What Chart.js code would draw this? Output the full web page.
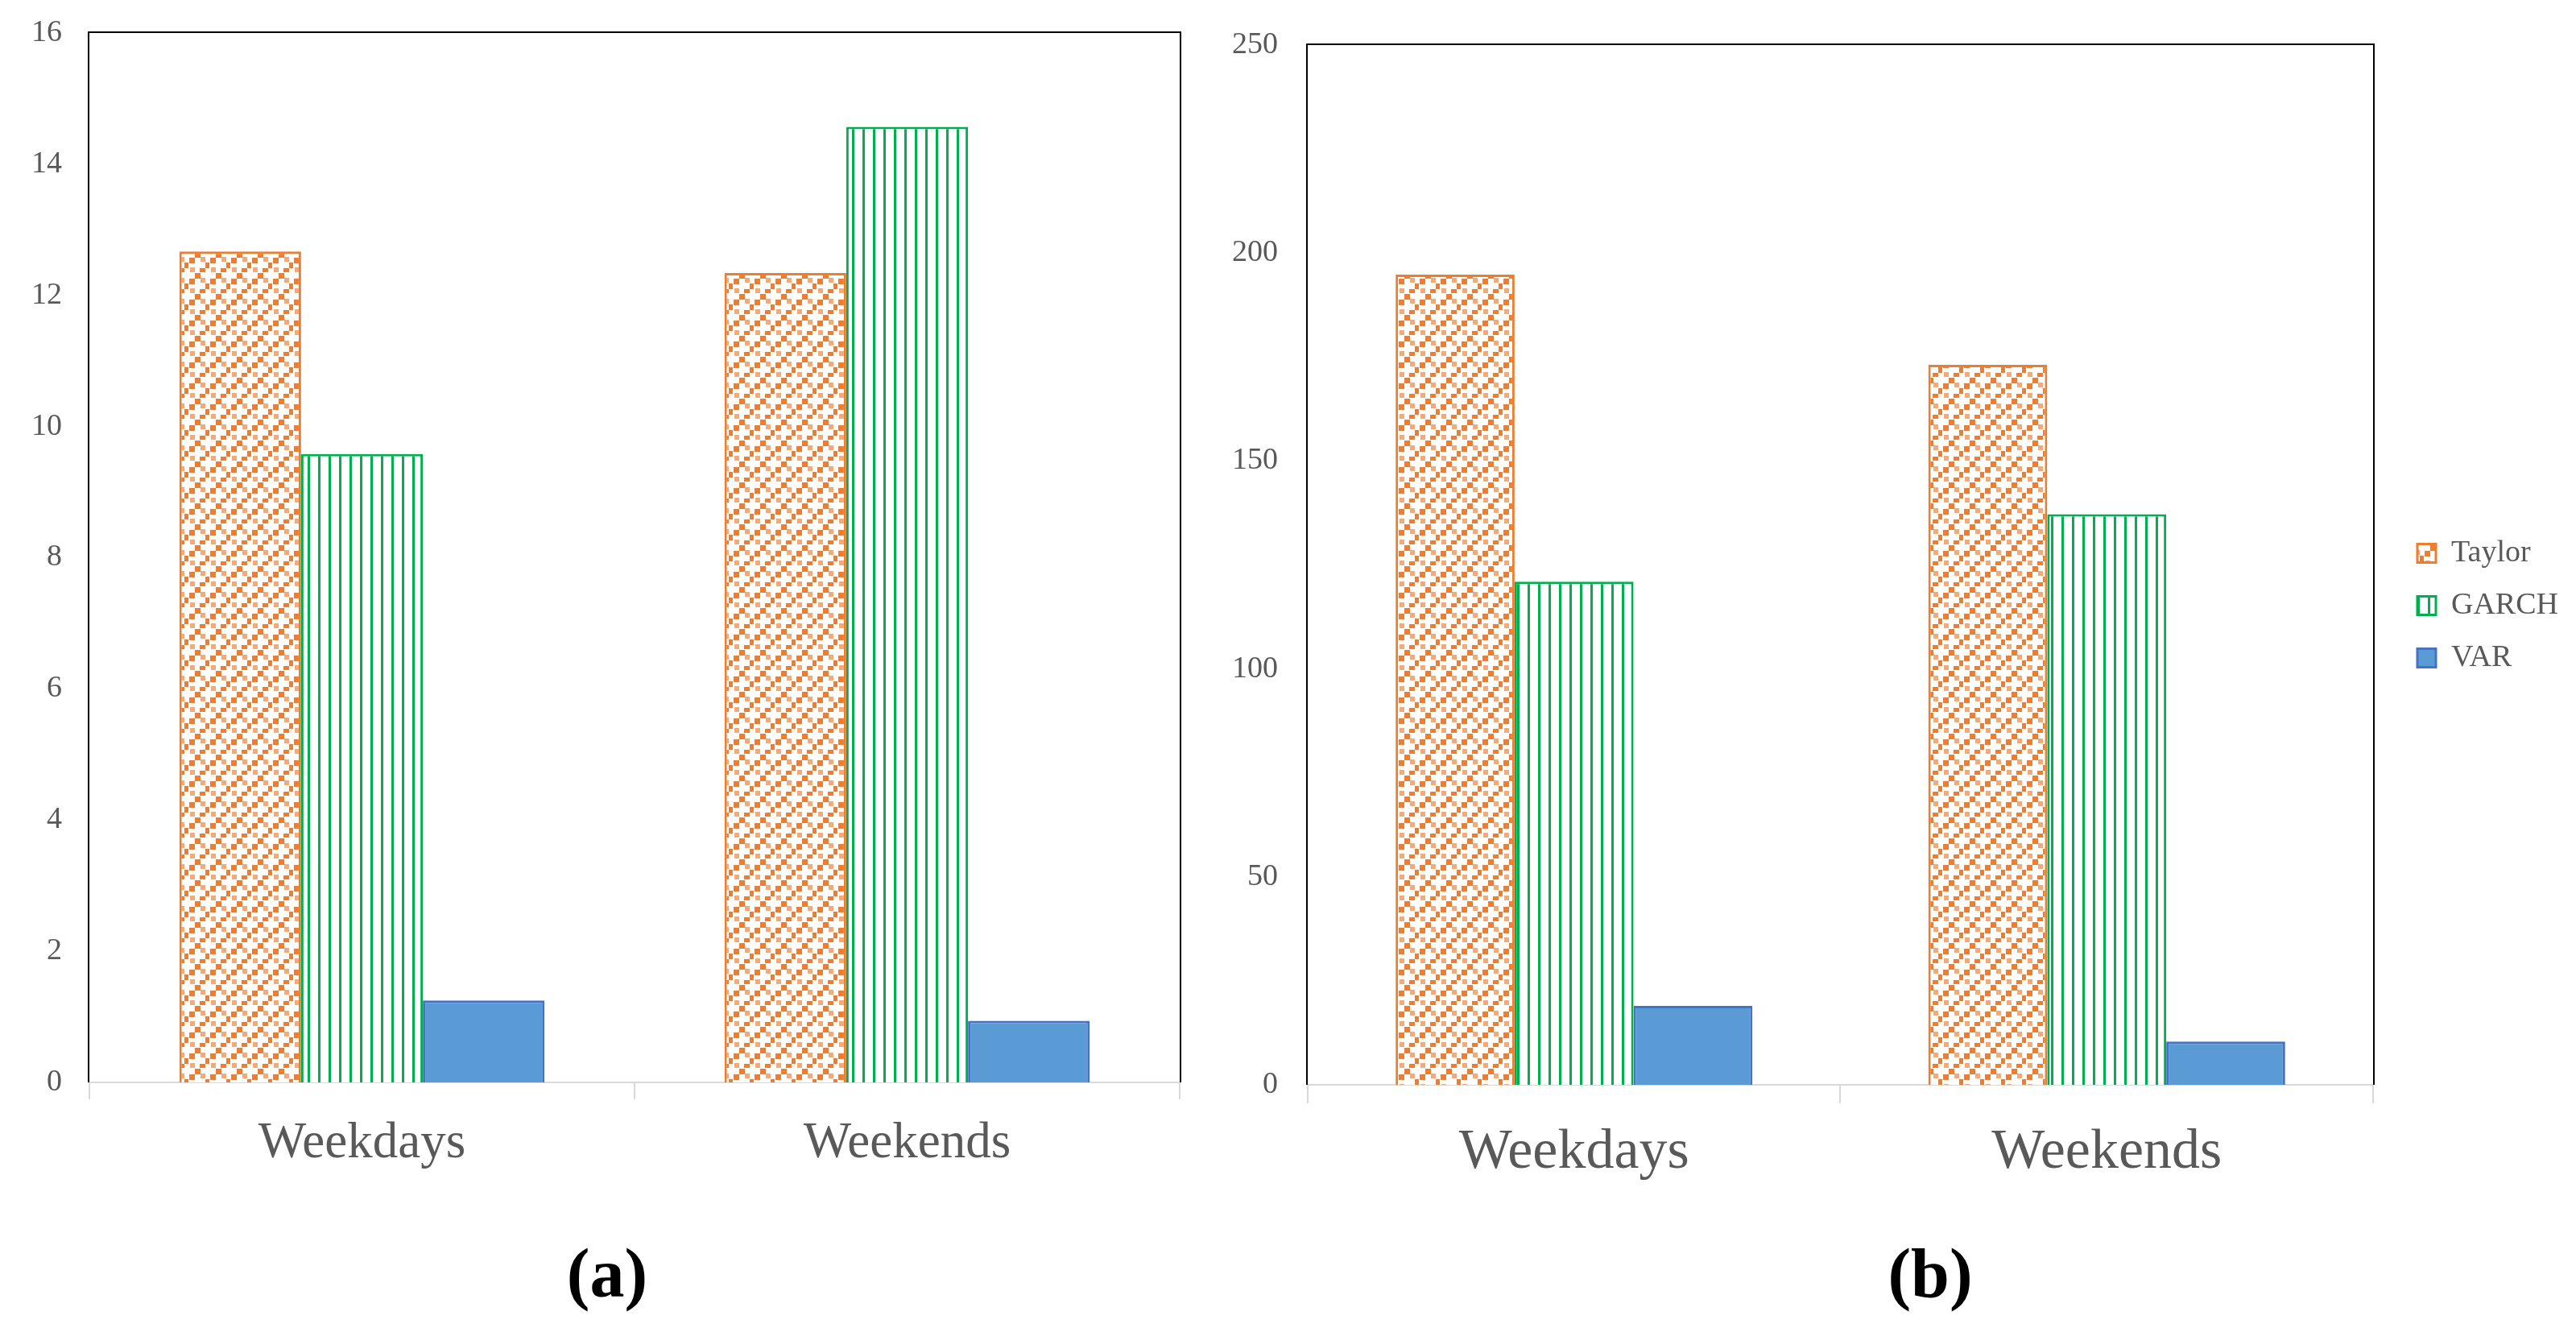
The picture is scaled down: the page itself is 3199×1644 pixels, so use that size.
<!DOCTYPE html>
<html>
<head>
<meta charset="utf-8">
<script src="https://cdn.jsdelivr.net/npm/chart.js@4.4.1/dist/chart.umd.min.js"></script>
<style>
  html, body { margin: 0; padding: 0; background: #ffffff; width: 3199px; height: 1644px; overflow: hidden; }
  canvas { position: absolute; top: 0; }
  .cap { position: absolute; font-family: 'Liberation Serif', 'Times New Roman', serif; font-weight: bold; font-size: 86px; line-height: 86px; color: #000; text-align: center; width: 200px; }
</style>
</head>
<body>
<canvas id="chartA" width="1500" height="1500" style="left:0px"></canvas>
<canvas id="chartB" width="1749" height="1504" style="left:1450px"></canvas>
<div class="cap" style="left:654px; top:1538px">(a)</div>
<div class="cap" style="left:2297px; top:1538px">(b)</div>
<script>
// ---- data ----
const categories = ['Weekdays', 'Weekends'];
const seriesNames = ['Taylor', 'GARCH', 'VAR'];
// panel (a)
const taylorA = [12.67, 12.34];
const garchA  = [9.58, 14.57];
const varA    = [1.25, 0.94];
const ticksA  = [0, 2, 4, 6, 8, 10, 12, 14, 16];
// panel (b)
const taylorB = [194.8, 173.1];
const garchB  = [121, 137.2];
const varB    = [19, 10.4];
const ticksB  = [0, 50, 100, 150, 200, 250];

// ---- patterns ----
function taylorPattern() {
  const t = document.createElement('canvas');
  t.width = 26; t.height = 26;
  const g = t.getContext('2d');
  g.fillStyle = '#ffffff'; g.fillRect(0, 0, 26, 26);
  g.fillStyle = '#ed7d31';
  [[1, 8], [8, 1], [14, 21], [21, 14]].forEach(p => g.fillRect(p[0], p[1], 7, 7));
  g.globalAlpha = 0.65;
  [[15, 7], [2, 20]].forEach(p => g.fillRect(p[0], p[1], 6, 6));
  return document.createElement('canvas').getContext('2d').createPattern(t, 'repeat');
}
function garchPattern() {
  const t = document.createElement('canvas');
  t.width = 13; t.height = 4;
  const g = t.getContext('2d');
  g.fillStyle = '#ffffff'; g.fillRect(0, 0, 13, 4);
  g.fillStyle = '#00b050'; g.fillRect(5, 0, 3, 4);
  return document.createElement('canvas').getContext('2d').createPattern(t, 'repeat');
}
const patT = taylorPattern();
const patG = garchPattern();

const FONT = "'Liberation Serif', 'Times New Roman', serif";
const GREY = '#595959';

const framePlugin = {
  id: 'frame',
  afterDatasetsDraw(chart) {
    const a = chart.chartArea, c = chart.ctx;
    c.save();
    c.strokeStyle = '#000000';
    c.lineWidth = 2;
    c.beginPath();
    c.moveTo(a.left - 1, a.bottom);
    c.lineTo(a.left - 1, a.top - 1);
    c.lineTo(a.right + 1, a.top - 1);
    c.lineTo(a.right + 1, a.bottom);
    c.stroke();
    c.restore();
  }
};

function datasets(t, g, v) {
  return [
    { label: seriesNames[0], data: t, backgroundColor: patT, borderColor: '#ed7d31', borderWidth: 3 },
    { label: seriesNames[1], data: g, backgroundColor: patG, borderColor: '#00b050', borderWidth: 3 },
    { label: seriesNames[2], data: v, backgroundColor: '#5b9bd5', borderColor: '#4472c4', borderWidth: 3 }
  ];
}

function spacerAxis(type, position, size, weight) {
  const horiz = position === 'top' || position === 'bottom';
  return {
    type: type, position: position, display: true, weight: weight || 0,
    grid: { display: false, drawTicks: false }, border: { display: false }, ticks: { display: false },
    afterFit: s => {
      if (horiz) { s.height = size; } else { s.width = size; }
      s.paddingTop = 0; s.paddingBottom = 0; s.paddingLeft = 0; s.paddingRight = 0;
    }
  };
}

function makeOptions(cfg) {
  const o = {
    responsive: false,
    animation: false,
    devicePixelRatio: 1,
    categoryPercentage: 0.67,
    barPercentage: 1.0,
    layout: { padding: cfg.padding },
    plugins: {
      tooltip: { enabled: false },
      legend: cfg.legend
    },
    scales: {
      x: {
        type: 'category',
        offset: true,
        grid: { display: true, drawOnChartArea: false, drawTicks: true, tickLength: cfg.tickLen, color: '#d9d9d9', lineWidth: 2, offset: true },
        border: { display: true, color: '#d9d9d9', width: 2 },
        ticks: { color: GREY, font: { family: FONT, size: cfg.xFont }, padding: cfg.xPad, maxRotation: 0 },
        afterFit: s => { s.height = cfg.xHeight; s.paddingLeft = 0; s.paddingRight = 0; }
      },
      y: {
        type: 'linear',
        min: cfg.ticks[0],
        max: cfg.ticks[cfg.ticks.length - 1],
        afterBuildTicks: s => { s.ticks = cfg.ticks.map(v => ({ value: v })); },
        grid: { display: false, drawTicks: false },
        border: { display: false },
        ticks: { color: GREY, font: { family: FONT, size: 38 }, padding: cfg.yPad },
        afterFit: s => { s.width = cfg.yWidth; s.paddingTop = 0; s.paddingBottom = 0; }
      }
    }
  };
  if (cfg.extra) Object.assign(o.scales, cfg.extra);
  return o;
}

new Chart(document.getElementById('chartA'), {
  type: 'bar',
  data: { labels: categories, datasets: datasets(taylorA, garchA, varA) },
  options: makeOptions({
    padding: { top: 41, left: 0, right: 35, bottom: 0 },
    legend: { display: false },
    tickLen: 21, xFont: 63, xPad: 18, xHeight: 156,
    ticks: ticksA, yPad: 34, yWidth: 111
  }),
  plugins: [framePlugin]
});

new Chart(document.getElementById('chartB'), {
  type: 'bar',
  data: { labels: categories, datasets: datasets(taylorB, garchB, varB) },
  options: makeOptions({
    padding: { top: 0, left: 0, right: 0, bottom: 0 },
    legend: {
      display: true, position: 'right', align: 'center', fullSize: true,
      labels: { color: GREY, font: { family: FONT, size: 38 }, boxWidth: 23, boxHeight: 23, padding: 27 }
    },
    tickLen: 23, xFont: 70, xPad: 20, xHeight: 157,
    ticks: ticksB, yPad: 37, yWidth: 174,
    extra: {
      xTop: spacerAxis('category', 'top', 56, 0),
      yGap: spacerAxis('linear', 'right', 28, 0),
      yEdge: spacerAxis('linear', 'right', 12, 2000)
    }
  }),
  plugins: [framePlugin]
});
</script>
</body>
</html>
